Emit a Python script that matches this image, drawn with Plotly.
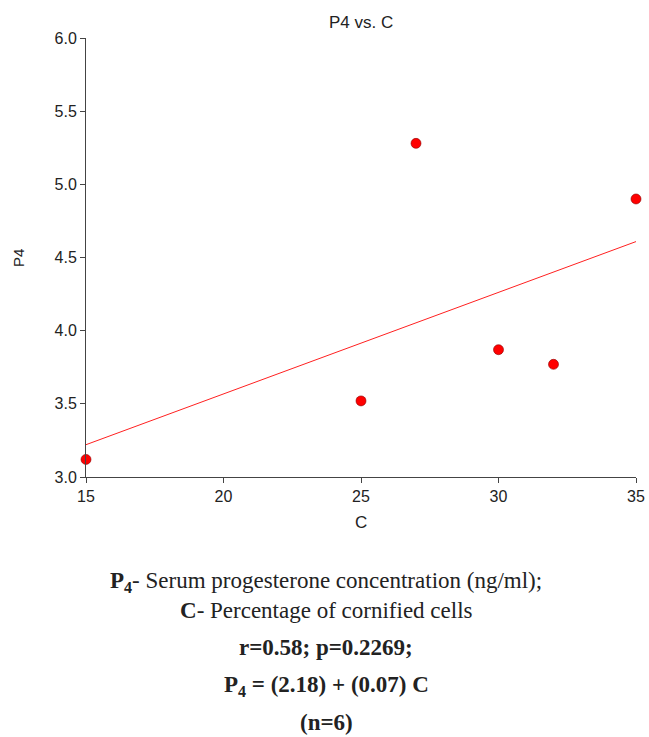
import numpy as np
import plotly.graph_objects as go

# Data
c_values = [15, 25, 27, 30, 32, 35]
p4_values = [3.12, 3.52, 5.28, 3.87, 3.77, 4.90]
x_ticks = [15, 20, 25, 30, 35]
y_ticks = [3.0, 3.5, 4.0, 4.5, 5.0, 5.5, 6.0]

caption_lines = [
    "<b>P<sub>4</sub></b>- Serum progesterone concentration (ng/ml);",
    "<b>C</b>- Percentage of cornified cells",
    "<b>r=0.58; p=0.2269;</b>",
    "<b>P<sub>4</sub> = (2.18) + (0.07) C</b>",
    "<b>(n=6)</b>",
]
caption_y_px = [582, 610, 647, 686, 722]

slope, intercept = np.polyfit(c_values, p4_values, 1)
fit_x = [min(x_ticks), max(x_ticks)]
fit_y = [intercept + slope * v for v in fit_x]

W, H = 649, 737
L, R, T, B = 86, 13, 38, 260
plot_h = H - T - B
plot_w = W - L - R

SANS = "Liberation Sans, Arial"
fig = go.Figure()
fig.add_trace(go.Scatter(x=fit_x, y=fit_y, mode="lines",
                         line=dict(color="#ff2020", width=1), hoverinfo="skip"))
fig.add_trace(go.Scatter(x=c_values, y=p4_values, mode="markers", cliponaxis=False,
                         marker=dict(color="#ff0000", size=10,
                                     line=dict(color="#8b0000", width=0.6))))

axis_common = dict(showgrid=False, zeroline=False, showline=True, linecolor="#444",
                   linewidth=1, ticks="outside", ticklen=5, tickcolor="#444",
                   automargin=False,
                   tickfont=dict(family=SANS, size=16, color="#222"))
fig.update_xaxes(range=[15, 35], tickvals=x_ticks, **axis_common)
fig.update_yaxes(range=[3, 6], tickvals=y_ticks, tickformat=".1f", **axis_common)

annotations = [
    dict(text="P4 vs. C", xref="paper", yref="paper", x=(361 - L) / plot_w,
         y=(H - B - 22) / plot_h, showarrow=False, xanchor="center", yanchor="middle",
         font=dict(family=SANS, size=17, color="#222")),
    dict(text="C", xref="paper", yref="paper", x=(361 - L) / plot_w,
         y=(H - B - 522) / plot_h, showarrow=False, xanchor="center", yanchor="middle",
         font=dict(family=SANS, size=17, color="#222")),
    dict(text="P4", xref="paper", yref="paper", x=(18 - L) / plot_w,
         y=(H - B - 258) / plot_h, showarrow=False, xanchor="center", yanchor="middle",
         textangle=-90, font=dict(family=SANS, size=15, color="#222")),
]
cx = (326 - L) / plot_w
for txt, py in zip(caption_lines, caption_y_px):
    annotations.append(dict(text=txt, xref="paper", yref="paper", x=cx,
                            y=(H - B - py) / plot_h, showarrow=False,
                            xanchor="center", yanchor="middle",
                            font=dict(family="Liberation Serif, Times New Roman, serif",
                                      size=23, color="#222")))

fig.update_layout(width=W, height=H, margin=dict(l=L, r=R, t=T, b=B),
                  paper_bgcolor="white", plot_bgcolor="white", showlegend=False,
                  annotations=annotations)

fig.write_html("out.html")
